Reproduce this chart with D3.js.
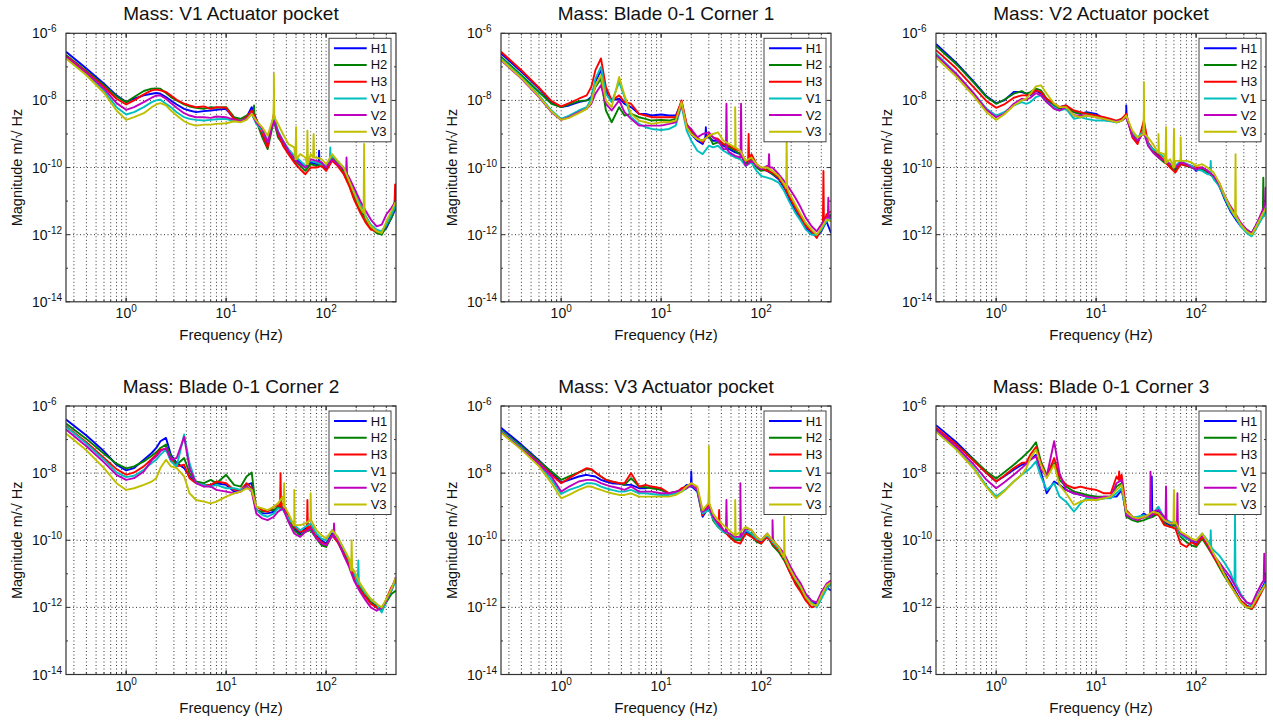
<!DOCTYPE html>
<html>
<head>
<meta charset="utf-8">
<script src="https://cdn.jsdelivr.net/npm/d3@7"></script>
<style>
body { margin: 0; background: #fff; }
text { font-family: Arial, "Liberation Sans", sans-serif; fill: #111; }
</style>
</head>
<body>
<script>
// spectra of the six masses, six sensors each (values are log10 of m/sqrt(Hz))

// frequency grid (Hz) shared by every trace
var freqs = [0.25, 0.4, 0.6, 0.8, 1, 1.2, 1.5, 1.8, 2, 2.2, 2.5, 2.8, 3.2, 3.8, 4.3, 5, 6, 7, 8, 10,
  12, 14, 16, 18, 20, 23, 26, 30, 33, 37, 42, 48, 55, 62, 70, 80, 90, 100, 115, 130,
  150, 170, 190, 220, 250, 280, 320, 360, 400, 450, 500]

var names = ['H1', 'H2', 'H3', 'V1', 'V2', 'V3']
var colours = ['#0000ff', '#008000', '#ff0000', '#00bfbf', '#bf00bf', '#bfbf00']
var titles = ['Mass: V1 Actuator pocket', 'Mass: Blade 0-1 Corner 1', 'Mass: V2 Actuator pocket',
  'Mass: Blade 0-1 Corner 2', 'Mass: V3 Actuator pocket', 'Mass: Blade 0-1 Corner 3']
var xTickExp = [0, 1, 2]
var yTickExp = [-6, -8, -10, -12, -14]

// panel 1 : V1 Actuator pocket
var p1 = [
  [-6.55, -7.05, -7.5, -7.85, -8.05, -7.95, -7.85, -7.8, -7.78, -7.8, -7.9, -8.0, -8.12, -8.25, -8.3, -8.35, -8.32, -8.3, -8.28, -8.25, -8.55, -8.58, -8.5, -8.2, -8.55, -8.95, -9.35, -8.5, -9.0, -9.25, -9.5, -9.7, -9.85, -10.0, -9.85, -9.9, -9.85, -10.05, -9.75, -9.9, -10.1, -10.4, -10.8, -11.2, -11.5, -11.75, -11.9, -11.95, -11.8, -11.5, -11.2],
  [-6.65, -7.12, -7.55, -7.88, -8.05, -7.9, -7.72, -7.65, -7.64, -7.65, -7.78, -7.9, -8.0, -8.12, -8.18, -8.22, -8.25, -8.2, -8.22, -8.2, -8.5, -8.55, -8.45, -8.35, -8.6, -9.1, -9.45, -8.6, -9.1, -9.3, -9.55, -9.8, -9.95, -10.1, -9.9, -9.95, -9.9, -10.0, -9.7, -9.85, -10.15, -10.5, -10.9, -11.3, -11.55, -11.8, -11.95, -12.0, -11.75, -11.5, -11.1],
  [-6.68, -7.15, -7.6, -7.95, -8.12, -8.0, -7.82, -7.7, -7.68, -7.7, -7.75, -7.85, -7.98, -8.1, -8.15, -8.2, -8.18, -8.25, -8.2, -8.22, -8.55, -8.6, -8.5, -8.3, -8.58, -9.0, -9.4, -8.4, -9.0, -9.35, -9.6, -9.85, -10.05, -10.2, -10.0, -10.0, -9.95, -10.1, -9.8, -9.95, -10.2, -10.55, -10.95, -11.35, -11.65, -11.85, -11.9, -11.9, -11.7, -11.4, -10.9],
  [-6.72, -7.22, -7.72, -8.2, -8.42, -8.35, -8.2, -8.05, -8.0, -7.98, -8.1, -8.2, -8.35, -8.5, -8.55, -8.58, -8.6, -8.58, -8.56, -8.55, -8.62, -8.6, -8.55, -8.4, -8.7, -8.9, -9.2, -8.55, -8.9, -9.2, -9.45, -9.65, -9.8, -9.95, -9.8, -9.85, -9.9, -9.95, -9.65, -9.8, -10.0, -10.35, -10.7, -11.1, -11.45, -11.7, -11.85, -11.9, -11.7, -11.4, -11.1],
  [-6.7, -7.18, -7.65, -8.08, -8.28, -8.2, -8.05, -7.92, -7.86, -7.85, -7.95, -8.08, -8.22, -8.38, -8.45, -8.5, -8.5, -8.52, -8.48, -8.5, -8.58, -8.62, -8.55, -8.38, -8.65, -8.85, -9.25, -8.6, -8.95, -9.2, -9.5, -9.75, -9.9, -10.0, -9.75, -9.8, -9.85, -10.0, -9.75, -9.9, -10.05, -10.3, -10.6, -11.0, -11.3, -11.55, -11.75, -11.7, -11.4, -11.2, -11.0],
  [-6.75, -7.25, -7.78, -8.3, -8.58, -8.5, -8.38, -8.2, -8.12, -8.08, -8.15, -8.3, -8.45, -8.62, -8.7, -8.75, -8.72, -8.72, -8.7, -8.68, -8.62, -8.65, -8.58, -8.4, -8.6, -8.8, -9.05, -7.9, -8.7, -9.0, -9.3, -9.4, -9.6, -9.7, -9.6, -9.7, -9.75, -9.9, -9.6, -9.8, -10.0, -10.4, -10.75, -11.2, -11.5, -11.75, -11.9, -11.95, -11.6, -11.3, -11.0]
]
// panel 2 : Blade 0-1 Corner 1
var p2 = [
  [-6.6, -7.15, -7.65, -8.05, -8.2, -8.15, -8.05, -8.0, -7.9, -7.45, -7.1, -7.7, -8.0, -7.95, -8.1, -8.2, -8.4, -8.4, -8.45, -8.42, -8.45, -8.45, -8.05, -8.8, -9.0, -9.2, -9.3, -9.1, -9.2, -9.2, -9.35, -9.45, -9.55, -9.6, -9.85, -9.7, -9.95, -10.05, -10.1, -10.2, -10.35, -10.6, -10.9, -11.3, -11.55, -11.8, -11.95, -12.05, -11.9, -11.6, -11.95],
  [-6.7, -7.25, -7.75, -8.1, -8.2, -8.12, -8.02, -8.0, -7.95, -7.6, -7.35, -8.3, -8.65, -8.2, -8.45, -8.4, -8.5, -8.55, -8.6, -8.58, -8.6, -8.55, -8.1, -8.75, -8.95, -9.15, -9.2, -9.05, -9.3, -9.25, -9.3, -9.4, -9.5, -9.6, -9.9, -9.75, -10.0, -10.1, -10.05, -10.2, -10.3, -10.55, -10.8, -11.2, -11.45, -11.7, -11.9, -12.05, -11.85, -11.5, -11.4],
  [-6.55, -7.1, -7.62, -8.02, -8.18, -8.08, -7.95, -7.85, -7.6, -7.1, -6.75, -7.6, -8.0, -7.85, -8.05, -8.1, -8.4, -8.45, -8.5, -8.5, -8.5, -8.5, -8.0, -8.7, -8.9, -9.1, -9.25, -9.0, -9.1, -9.15, -9.3, -9.35, -9.45, -9.5, -9.8, -9.6, -9.9, -10.0, -10.1, -10.15, -10.3, -10.55, -10.85, -11.2, -11.5, -11.75, -11.9, -12.1, -11.8, -11.4, -11.3],
  [-6.75, -7.3, -7.85, -8.3, -8.55, -8.45, -8.3, -8.2, -7.95, -7.35, -7.0, -7.8, -8.05, -7.45, -7.9, -8.5, -8.7, -8.8, -8.85, -8.88, -8.85, -8.75, -8.15, -8.9, -9.2, -9.5, -9.6, -9.35, -9.4, -9.35, -9.5, -9.6, -9.7, -9.75, -9.95, -9.85, -10.1, -10.25, -10.3, -10.35, -10.45, -10.7, -11.0, -11.35, -11.6, -11.85, -12.0, -12.0, -11.85, -11.6, -11.5],
  [-6.8, -7.35, -7.9, -8.35, -8.58, -8.5, -8.35, -8.25, -8.1, -7.8, -7.55, -8.1, -8.3, -8.0, -8.35, -8.55, -8.75, -8.75, -8.75, -8.75, -8.7, -8.65, -8.1, -8.75, -8.85, -9.1, -9.0, -8.95, -9.1, -9.2, -9.45, -9.55, -9.65, -9.7, -9.95, -9.8, -9.95, -10.05, -9.95, -10.0, -10.2, -10.4, -10.6, -10.9, -11.2, -11.5, -11.75, -11.9, -11.7, -11.5, -11.45],
  [-6.78, -7.33, -7.88, -8.33, -8.58, -8.52, -8.38, -8.25, -8.05, -7.55, -7.25, -8.0, -8.2, -7.3, -7.85, -8.4, -8.6, -8.65, -8.7, -8.65, -8.65, -8.6, -8.05, -8.8, -9.0, -9.15, -9.2, -9.05, -9.0, -8.95, -9.2, -9.3, -9.4, -9.5, -9.8, -9.7, -9.9, -10.0, -10.0, -10.1, -10.25, -10.5, -10.75, -11.1, -11.4, -11.65, -11.85, -12.0, -11.8, -11.55, -11.6]
]
// panel 3 : V2 Actuator pocket
var p3 = [
  [-6.32, -6.88, -7.45, -7.88, -8.08, -8.0, -7.75, -7.75, -7.8, -7.85, -7.7, -7.8, -8.0, -8.15, -8.2, -8.15, -8.35, -8.4, -8.35, -8.4, -8.55, -8.6, -8.65, -8.6, -8.3, -9.05, -9.25, -8.9, -9.3, -9.5, -9.65, -9.8, -9.95, -10.05, -9.85, -9.9, -9.95, -10.1, -10.0, -10.1, -10.3, -10.55, -10.9, -11.3, -11.55, -11.75, -11.9, -11.95, -11.7, -11.45, -11.3],
  [-6.38, -6.92, -7.48, -7.9, -8.1, -7.98, -7.8, -7.72, -7.8, -7.75, -7.65, -7.7, -7.95, -8.15, -8.25, -8.2, -8.35, -8.4, -8.38, -8.45, -8.55, -8.58, -8.62, -8.55, -8.45, -9.0, -9.2, -8.85, -9.3, -9.5, -9.7, -9.85, -9.95, -10.1, -9.9, -9.95, -10.0, -10.05, -10.05, -10.15, -10.3, -10.5, -10.85, -11.25, -11.5, -11.7, -11.85, -11.95, -11.75, -11.5, -11.2],
  [-6.5, -7.05, -7.62, -8.02, -8.22, -8.12, -7.92, -7.85, -7.85, -7.82, -7.7, -7.75, -7.95, -8.1, -8.2, -8.15, -8.3, -8.35, -8.4, -8.45, -8.5, -8.55, -8.6, -8.55, -8.4, -9.1, -9.3, -8.6, -9.25, -9.45, -9.6, -9.8, -10.0, -10.15, -9.9, -9.95, -9.95, -10.0, -10.0, -10.1, -10.25, -10.45, -10.8, -11.2, -11.45, -11.7, -11.9, -12.0, -11.8, -11.5, -11.3],
  [-6.6, -7.2, -7.8, -8.25, -8.45, -8.35, -8.15, -8.05, -8.1, -8.05, -7.9, -7.85, -8.05, -8.2, -8.3, -8.25, -8.55, -8.5, -8.55, -8.6, -8.6, -8.62, -8.65, -8.6, -8.5, -8.95, -9.1, -8.9, -9.3, -9.45, -9.55, -9.7, -9.9, -9.95, -9.8, -9.9, -9.95, -10.05, -10.1, -10.2, -10.35, -10.55, -10.85, -11.25, -11.5, -11.75, -11.95, -12.05, -11.8, -11.55, -11.3],
  [-6.65, -7.22, -7.8, -8.28, -8.5, -8.4, -8.1, -7.95, -7.98, -7.92, -7.78, -7.85, -8.05, -8.25, -8.3, -8.2, -8.45, -8.45, -8.45, -8.5, -8.55, -8.6, -8.62, -8.6, -8.5, -9.05, -9.2, -8.95, -9.35, -9.55, -9.7, -9.8, -9.9, -10.0, -9.85, -9.9, -10.0, -10.05, -10.0, -10.1, -10.25, -10.5, -10.8, -11.15, -11.4, -11.65, -11.85, -11.95, -11.7, -11.35, -10.9],
  [-6.72, -7.3, -7.88, -8.35, -8.58, -8.42, -8.15, -8.0, -7.95, -7.8, -7.58, -7.55, -7.8, -8.1, -8.2, -8.2, -8.45, -8.5, -8.45, -8.5, -8.55, -8.6, -8.65, -8.6, -8.45, -8.9, -9.1, -8.3, -9.1, -9.3, -9.5, -9.6, -9.75, -9.8, -9.7, -9.8, -9.85, -9.95, -9.9, -10.0, -10.15, -10.45, -10.8, -11.2, -11.45, -11.7, -11.9, -12.0, -11.75, -11.45, -11.2]
]
// panel 4 : Blade 0-1 Corner 2
var p4 = [
  [-6.4, -6.88, -7.35, -7.75, -7.92, -7.85, -7.6, -7.4, -7.25, -7.05, -6.95, -7.45, -7.7, -7.85, -8.1, -8.3, -8.35, -8.4, -8.3, -8.35, -8.55, -8.5, -8.35, -8.3, -9.1, -9.2, -9.2, -9.15, -9.0, -9.0, -9.35, -9.65, -9.8, -9.65, -9.6, -9.85, -10.0, -10.1, -9.8, -10.0, -10.35, -10.7, -11.05, -11.45, -11.7, -11.85, -11.95, -12.05, -11.8, -11.5, -11.1],
  [-6.52, -6.98, -7.42, -7.72, -7.86, -7.8, -7.65, -7.48, -7.38, -7.25, -7.15, -7.5, -7.75, -7.55, -8.0, -8.25, -8.3, -8.2, -8.3, -8.05, -8.35, -8.4, -8.1, -7.98, -9.1, -9.15, -9.1, -9.1, -9.0, -9.05, -9.4, -9.7, -9.85, -9.75, -9.7, -9.95, -10.15, -10.2, -9.85, -10.05, -10.4, -10.7, -11.05, -11.4, -11.65, -11.85, -12.0, -12.1, -11.85, -11.6, -11.5],
  [-6.6, -7.08, -7.55, -7.88, -8.05, -7.98, -7.8, -7.58, -7.45, -7.3, -7.28, -7.6, -7.8, -7.75, -8.15, -8.3, -8.35, -8.35, -8.25, -8.3, -8.5, -8.5, -8.3, -8.45, -9.0, -9.1, -9.15, -9.0, -8.95, -8.9, -9.3, -9.6, -9.75, -9.7, -9.55, -9.9, -10.05, -10.15, -9.85, -10.05, -10.4, -10.75, -11.1, -11.5, -11.7, -11.9, -12.0, -12.1, -11.75, -11.4, -11.2],
  [-6.62, -7.12, -7.6, -7.98, -8.12, -8.08, -7.9, -7.7, -7.6, -7.45, -7.3, -7.65, -7.8, -6.85, -7.7, -8.3, -8.35, -8.4, -8.35, -8.45, -8.45, -8.5, -8.4, -8.5, -9.1, -9.25, -9.3, -9.2, -9.05, -9.1, -9.35, -9.55, -9.7, -9.6, -9.5, -9.8, -9.95, -10.0, -9.7, -9.9, -10.25, -10.6, -10.95, -11.35, -11.6, -11.75, -11.9, -12.15, -11.8, -11.5, -11.2],
  [-6.7, -7.2, -7.68, -8.05, -8.2, -8.15, -7.95, -7.62, -7.5, -7.35, -7.25, -7.6, -7.55, -6.92, -7.85, -8.3, -8.4, -8.4, -8.5, -8.55, -8.6, -8.55, -8.4, -8.55, -9.2, -9.35, -9.4, -9.3, -9.15, -9.05, -9.45, -9.8, -9.9, -9.75, -9.65, -9.95, -10.1, -10.15, -9.85, -10.0, -10.45, -10.8, -11.2, -11.55, -11.8, -12.0, -12.1, -12.0, -11.8, -11.45, -11.1],
  [-6.82, -7.32, -7.85, -8.3, -8.5, -8.45, -8.35, -8.25, -8.15, -7.85, -7.6, -7.8, -7.85, -8.1, -8.6, -8.8, -8.85, -8.9, -8.85, -8.7, -8.6, -8.55, -8.45, -8.5, -9.0, -9.05, -9.1, -9.0, -8.9, -8.7, -9.2, -9.4, -9.55, -9.5, -9.3, -9.7, -9.85, -9.95, -9.7, -9.9, -10.25, -10.55, -10.9, -11.3, -11.55, -11.75, -11.9, -12.0, -11.75, -11.45, -11.1]
]
// panel 5 : V3 Actuator pocket
var p5 = [
  [-6.65, -7.15, -7.62, -7.98, -8.28, -8.2, -8.1, -8.05, -8.08, -8.1, -8.2, -8.25, -8.3, -8.32, -8.35, -8.35, -8.45, -8.45, -8.4, -8.5, -8.6, -8.6, -8.5, -8.35, -8.05, -8.55, -9.3, -9.0, -9.35, -9.55, -9.7, -9.85, -9.95, -10.0, -9.75, -9.8, -10.0, -10.05, -9.9, -10.1, -10.3, -10.55, -10.85, -11.2, -11.45, -11.7, -11.85, -11.9, -11.65, -11.4, -11.5],
  [-6.72, -7.2, -7.65, -7.95, -8.2, -8.1, -7.98, -7.88, -7.9, -7.98, -8.1, -8.2, -8.25, -8.3, -8.35, -8.15, -8.4, -8.42, -8.45, -8.5, -8.6, -8.55, -8.5, -8.4, -8.35, -8.5, -9.25, -8.9, -9.4, -9.6, -9.75, -9.85, -10.0, -10.0, -9.8, -9.85, -10.05, -10.1, -9.85, -10.15, -10.35, -10.6, -10.9, -11.25, -11.5, -11.75, -11.9, -11.95, -11.7, -11.45, -11.3],
  [-6.75, -7.25, -7.7, -8.05, -8.3, -8.15, -7.98, -7.85, -7.88, -7.98, -8.1, -8.2, -8.25, -8.3, -8.3, -8.0, -8.4, -8.35, -8.4, -8.45, -8.6, -8.6, -8.45, -8.4, -8.3, -8.45, -9.25, -8.9, -9.3, -9.5, -9.7, -9.9, -10.05, -10.1, -9.8, -9.9, -10.0, -10.1, -9.9, -10.1, -10.3, -10.55, -10.9, -11.3, -11.55, -11.8, -12.0, -11.95, -11.7, -11.4, -11.2],
  [-6.75, -7.25, -7.75, -8.2, -8.62, -8.5, -8.4, -8.3, -8.3, -8.32, -8.4, -8.45, -8.5, -8.55, -8.55, -8.5, -8.6, -8.6, -8.62, -8.65, -8.65, -8.6, -8.55, -8.45, -8.35, -8.5, -9.2, -9.1, -9.35, -9.6, -9.75, -9.8, -9.95, -9.95, -9.7, -9.8, -9.95, -10.0, -9.85, -10.05, -10.25, -10.5, -10.8, -11.15, -11.4, -11.65, -11.85, -12.0, -11.75, -11.45, -11.3],
  [-6.78, -7.28, -7.72, -8.1, -8.55, -8.4, -8.25, -8.2, -8.2, -8.22, -8.3, -8.35, -8.4, -8.45, -8.5, -8.4, -8.55, -8.55, -8.55, -8.6, -8.6, -8.55, -8.5, -8.45, -8.35, -8.5, -9.15, -9.0, -9.3, -9.5, -9.7, -9.8, -9.9, -9.9, -9.65, -9.7, -9.9, -10.0, -9.8, -10.0, -10.2, -10.4, -10.7, -11.05, -11.3, -11.6, -11.8, -11.85, -11.55, -11.3, -11.2],
  [-6.8, -7.3, -7.8, -8.3, -8.75, -8.65, -8.5, -8.4, -8.4, -8.45, -8.5, -8.55, -8.6, -8.65, -8.65, -8.6, -8.7, -8.7, -8.7, -8.7, -8.7, -8.65, -8.55, -8.4, -8.3, -8.4, -9.1, -8.4, -9.2, -9.4, -9.55, -9.7, -9.8, -9.75, -9.6, -9.7, -9.9, -10.0, -9.8, -10.0, -10.2, -10.45, -10.8, -11.15, -11.4, -11.7, -11.9, -11.95, -11.65, -11.35, -11.25]
]
// panel 6 : Blade 0-1 Corner 3
var p6 = [
  [-6.57, -7.08, -7.6, -8.0, -8.25, -8.1, -7.9, -7.75, -7.7, -7.6, -7.45, -7.95, -8.6, -8.25, -8.35, -8.5, -8.6, -8.65, -8.7, -8.7, -8.75, -8.7, -8.7, -8.5, -9.2, -9.3, -9.35, -9.2, -9.3, -9.25, -9.1, -9.45, -9.55, -9.5, -9.8, -9.9, -10.05, -10.1, -9.85, -10.1, -10.45, -10.7, -10.95, -11.25, -11.55, -11.8, -11.95, -12.0, -11.75, -11.45, -11.2],
  [-6.7, -7.15, -7.6, -7.95, -8.16, -7.98, -7.75, -7.55, -7.42, -7.3, -7.08, -7.65, -8.05, -7.7, -8.2, -8.4, -8.55, -8.6, -8.65, -8.7, -8.7, -8.7, -8.4, -8.3, -9.3, -9.4, -9.45, -9.4, -9.35, -9.3, -9.2, -9.5, -9.6, -9.55, -9.9, -10.05, -10.15, -10.2, -9.95, -10.2, -10.5, -10.8, -11.05, -11.35, -11.6, -11.85, -12.0, -12.05, -11.8, -11.5, -11.3],
  [-6.65, -7.15, -7.65, -8.0, -8.25, -8.08, -7.85, -7.7, -7.68, -7.45, -7.22, -7.7, -8.1, -7.55, -8.1, -8.35, -8.45, -8.4, -8.45, -8.5, -8.6, -8.6, -8.1, -8.05, -9.1, -9.3, -9.4, -9.3, -9.3, -9.2, -9.25, -9.55, -9.6, -9.65, -10.1, -10.2, -10.05, -10.15, -9.9, -10.15, -10.5, -10.75, -11.0, -11.3, -11.6, -11.8, -11.95, -12.05, -11.85, -11.55, -11.3],
  [-6.75, -7.28, -7.85, -8.38, -8.7, -8.52, -8.25, -8.05, -7.95, -7.85, -7.65, -8.1, -8.5, -8.3, -8.7, -8.85, -9.15, -8.9, -8.75, -8.8, -8.75, -8.75, -8.6, -8.45, -9.2, -9.35, -9.3, -9.25, -9.3, -9.2, -9.0, -9.35, -9.45, -9.5, -9.85, -9.95, -10.0, -10.05, -9.8, -10.0, -10.3, -10.45, -10.65, -10.95, -11.3, -11.6, -11.85, -11.95, -11.7, -11.5, -11.25],
  [-6.7, -7.22, -7.75, -8.2, -8.45, -8.28, -8.05, -7.85, -7.72, -7.6, -7.5, -7.9, -8.1, -7.05, -8.0, -8.5, -8.6, -8.65, -8.7, -8.75, -8.7, -8.7, -8.3, -8.2, -9.25, -9.35, -9.4, -9.3, -9.25, -9.15, -9.1, -9.3, -9.5, -9.45, -9.8, -9.9, -10.0, -10.05, -9.85, -10.1, -10.45, -10.65, -10.85, -11.1, -11.4, -11.65, -11.85, -11.9, -11.6, -11.3, -11.0],
  [-6.77, -7.3, -7.88, -8.42, -8.75, -8.55, -8.25, -8.05, -7.85, -7.55, -7.3, -7.75, -8.15, -7.75, -8.35, -8.6, -8.95, -8.85, -8.8, -8.8, -8.75, -8.7, -8.5, -8.35, -9.15, -9.3, -9.35, -9.3, -9.25, -9.15, -9.2, -9.4, -9.5, -9.45, -9.75, -9.85, -9.95, -10.0, -9.8, -10.05, -10.4, -10.7, -11.0, -11.35, -11.6, -11.85, -12.0, -12.0, -11.75, -11.5, -11.3]
]

// narrow peaks: [sensor index, frequency, level beside the peak, peak level]
var s1 = [[5, 30, -8.5, -7.2], [5, 50, -9.75, -8.8], [5, 65, -9.9, -8.9], [5, 75, -9.7, -9.0],
  [5, 240, -11.35, -9.3], [2, 490, -11.0, -10.5], [1, 19, -8.5, -8.15], [3, 110, -9.8, -9.4],
  [4, 160, -10.2, -9.7], [0, 85, -9.9, -9.5]]
var s2 = [[4, 45, -9.45, -8.1], [5, 55, -9.4, -8.2], [4, 63, -9.6, -8.1], [2, 75, -9.8, -9.0],
  [5, 180, -10.6, -9.2], [2, 420, -11.7, -10.1], [4, 470, -11.5, -10.9], [4, 120, -10.0, -9.6],
  [0, 28, -9.1, -8.8]]
var s3 = [[5, 30, -9.0, -7.45], [5, 50, -9.85, -8.8], [5, 60, -10.0, -8.85], [5, 70, -9.8, -9.1],
  [0, 20, -8.5, -8.15], [5, 248, -11.45, -9.6], [1, 470, -11.45, -10.3], [4, 495, -11.1, -10.6],
  [5, 42, -9.55, -9.0], [3, 140, -10.2, -9.8]]
var s4 = [[2, 35, -9.0, -8.0], [5, 38, -9.0, -8.3], [5, 48, -9.55, -8.5], [5, 70, -9.4, -8.6],
  [2, 65, -9.7, -8.8], [5, 180, -10.9, -10.0], [3, 210, -11.3, -10.6], [4, 120, -9.9, -9.5]]
var s5 = [[5, 30, -8.9, -7.2], [4, 45, -9.75, -8.8], [4, 62, -9.9, -8.3], [5, 55, -9.85, -8.8],
  [5, 170, -10.5, -9.3], [4, 130, -10.0, -9.4], [0, 20, -8.4, -7.95], [2, 38, -9.5, -9.1]]
var s6 = [[4, 35, -9.3, -7.96], [0, 36, -9.25, -8.1], [4, 50, -9.45, -8.4], [5, 60, -9.5, -8.5],
  [4, 65, -9.6, -8.6], [3, 245, -11.3, -9.25], [4, 480, -11.2, -10.4], [2, 17, -8.2, -7.95],
  [3, 140, -10.2, -9.7]]

var panels = [p1, p2, p3, p4, p5, p6]
var peaks = [s1, s2, s3, s4, s5, s6]

var svg = d3.select('body').append('svg')
  .attr('width', 1273)
  .attr('height', 721)

var colLeft = [66, 501, 936]
var rowTop = [33.3, 406]
var pw = 330
var ph = 268.5

var x = d3.scaleLog().domain([0.25, 500]).range([0, pw])
var y = d3.scaleLog().domain([1e-14, 1e-6]).range([ph, 0])

// minor values for the grid and ticks
var minorX = []
;[0.1, 1, 10, 100].forEach(function (d) {
  for (var m = 1; m <= 9; m++) {
    var v = m * d
    if (v > 0.26 && v < 499) minorX.push(v)
  }
})

panels.forEach(function (pd, k) {
  var g = svg.append('g')
    .attr('transform', 'translate(' + colLeft[k % 3] + ',' + rowTop[Math.floor(k / 3)] + ')')

  g.append('clipPath').attr('id', 'clip' + k)
    .append('rect').attr('width', pw).attr('height', ph)

  // grid (dotted, like matlab)
  g.selectAll('.vgrid').data(minorX).enter().append('line')
    .attr('x1', function (d) { return x(d) }).attr('x2', function (d) { return x(d) })
    .attr('y1', 0).attr('y2', ph)
    .attr('stroke', '#333').attr('stroke-width', 1)
    .attr('stroke-dasharray', '1,2.5')
  g.selectAll('.hgrid').data([-8, -10, -12]).enter().append('line')
    .attr('y1', function (d) { return y(Math.pow(10, d)) }).attr('y2', function (d) { return y(Math.pow(10, d)) })
    .attr('x1', 0).attr('x2', pw)
    .attr('stroke', '#333').attr('stroke-width', 1)
    .attr('stroke-dasharray', '1,2.5')

  // traces
  var line = d3.line()
    .x(function (d) { return x(d[0]) })
    .y(function (d) { return y(Math.pow(10, d[1])) })

  var traces = pd.map(function (vals, i) {
    var pts = freqs.map(function (f, j) { return [f, vals[j]] })
    peaks[k].filter(function (p) { return p[0] === i }).forEach(function (p) {
      pts.push([p[1] / 1.012, p[2]], [p[1], p[3]], [p[1] * 1.012, p[2]])
    })
    pts.sort(function (a, b) { return a[0] - b[0] })
    return pts
  })

  g.append('g').attr('clip-path', 'url(#clip' + k + ')')
    .selectAll('path').data(traces).enter().append('path')
    .attr('d', line)
    .attr('fill', 'none')
    .attr('stroke', function (d, i) { return colours[i] })
    .attr('stroke-width', 1.9)
    .attr('stroke-linejoin', 'round')

  // box and inward ticks
  g.append('rect').attr('width', pw).attr('height', ph)
    .attr('fill', 'none').attr('stroke', '#333').attr('stroke-width', 1.2)
  var tk = g.append('g').attr('stroke', '#333').attr('stroke-width', 1)
  minorX.concat([1, 10, 100]).forEach(function (v) {
    var len = [1, 10, 100].indexOf(v) >= 0 ? 4 : 2
    tk.append('line').attr('x1', x(v)).attr('x2', x(v)).attr('y1', ph).attr('y2', ph - len)
    tk.append('line').attr('x1', x(v)).attr('x2', x(v)).attr('y1', 0).attr('y2', len)
  })
  d3.range(-14, -5).forEach(function (e) {
    var len = e % 2 === 0 ? 4 : 2
    var yy = y(Math.pow(10, e))
    tk.append('line').attr('x1', 0).attr('x2', len).attr('y1', yy).attr('y2', yy)
    tk.append('line').attr('x1', pw).attr('x2', pw - len).attr('y1', yy).attr('y2', yy)
  })

  // tick labels
  xTickExp.forEach(function (e) {
    var t = g.append('text')
      .attr('x', x(Math.pow(10, e)))
      .attr('y', ph + 16)
      .attr('text-anchor', 'middle')
      .attr('font-size', '14px')
    t.append('tspan').text('10')
    t.append('tspan').attr('dy', -6).attr('font-size', '10px').text(e)
  })
  yTickExp.forEach(function (e) {
    var t = g.append('text')
      .attr('x', -34)
      .attr('y', y(Math.pow(10, e)) + 5)
      .attr('text-anchor', 'start')
      .attr('font-size', '14px')
    t.append('tspan').text('10')
    t.append('tspan').attr('dy', -6).attr('font-size', '10px').text(e)
  })

  // axis labels and title
  g.append('text')
    .attr('x', pw / 2).attr('y', ph + 38)
    .attr('text-anchor', 'middle').attr('font-size', '15px')
    .text('Frequency (Hz)')
  g.append('text')
    .attr('transform', 'translate(-44,' + (ph / 2) + ') rotate(-90)')
    .attr('text-anchor', 'middle').attr('font-size', '14.5px')
    .text('Magnitude m/\u221A Hz')
  g.append('text')
    .attr('x', pw / 2).attr('y', -13.5)
    .attr('text-anchor', 'middle').attr('font-size', '19px')
    .text(titles[k])

  // legend
  var lg = g.append('g').attr('transform', 'translate(' + (pw - 67) + ',5)')
  lg.append('rect').attr('width', 62).attr('height', 103.5)
    .attr('fill', '#fff').attr('stroke', '#444').attr('stroke-width', 1)
  names.forEach(function (n, i) {
    var ly = 10 + i * 16.7
    lg.append('line').attr('x1', 5).attr('x2', 37.7).attr('y1', ly).attr('y2', ly)
      .attr('stroke', colours[i]).attr('stroke-width', 2)
    lg.append('text').attr('x', 41.7).attr('y', ly + 4.5)
      .attr('font-size', '13px').text(n)
  })
})
</script>
</body>
</html>
